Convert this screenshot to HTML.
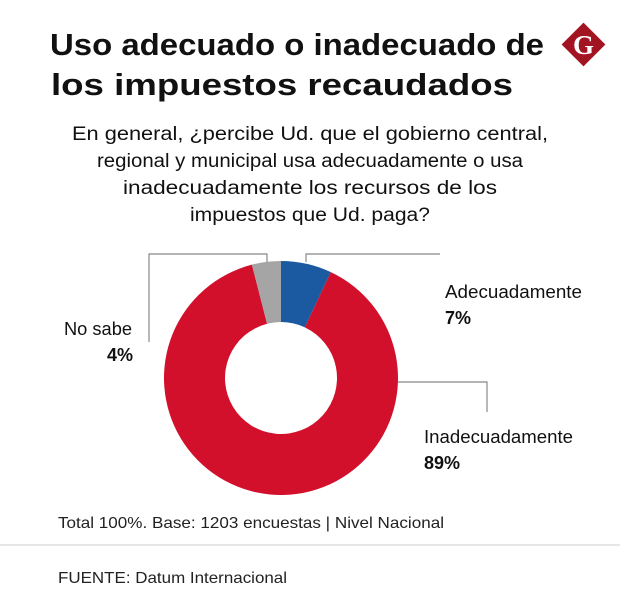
<!DOCTYPE html>
<html><head><meta charset="utf-8"><style>
body{margin:0;background:#fff}
svg{display:block;font-family:"Liberation Sans",sans-serif}
</style></head><body>
<svg width="620" height="615" viewBox="0 0 620 615">
<text x="297" y="55" text-anchor="middle" font-size="31" font-weight="bold" fill="#111" textLength="494" lengthAdjust="spacingAndGlyphs">Uso adecuado o inadecuado de</text>
<text x="282" y="95" text-anchor="middle" font-size="31" font-weight="bold" fill="#111" textLength="462" lengthAdjust="spacingAndGlyphs">los impuestos recaudados</text>
<g>
<rect x="568" y="29" width="31" height="31" fill="#a31423" transform="rotate(45 583.5 44.5)"/>
<text x="583.5" y="54" text-anchor="middle" font-family="Liberation Serif,serif" font-weight="bold" font-size="27" fill="#fff">G</text>
</g>
<g font-size="19" fill="#111" text-anchor="middle">
<text x="310" y="140" textLength="476" lengthAdjust="spacingAndGlyphs">En general, ¿percibe Ud. que el gobierno central,</text>
<text x="310" y="167" textLength="426" lengthAdjust="spacingAndGlyphs">regional y municipal usa adecuadamente o usa</text>
<text x="310" y="194" textLength="374" lengthAdjust="spacingAndGlyphs">inadecuadamente los recursos de los</text>
<text x="310" y="221" textLength="240" lengthAdjust="spacingAndGlyphs">impuestos que Ud. paga?</text>
</g>
<g id="donut"></g>
<g stroke="#888" stroke-width="1.2" fill="none">
<polyline points="306,262 306,254 440,254"/>
<polyline points="267,262 267,254 149,254 149,342"/>
<polyline points="398,382 487,382 487,412"/>
</g>
<g font-size="18" fill="#111">
<text x="445" y="298" textLength="137" lengthAdjust="spacingAndGlyphs">Adecuadamente</text>
<text x="445" y="324" font-weight="bold">7%</text>
<text x="64" y="335" textLength="68" lengthAdjust="spacingAndGlyphs">No sabe</text>
<text x="133" y="361" text-anchor="end" font-weight="bold">4%</text>
<text x="424" y="443" textLength="149" lengthAdjust="spacingAndGlyphs">Inadecuadamente</text>
<text x="424" y="469" font-weight="bold">89%</text>
</g>
<text x="58" y="528" font-size="16" fill="#222" textLength="386" lengthAdjust="spacingAndGlyphs">Total 100%. Base: 1203 encuestas | Nivel Nacional</text>
<line x1="0" y1="545" x2="620" y2="545" stroke="#ccc" stroke-width="1"/>
<text x="58" y="583" font-size="16" fill="#222" textLength="229" lengthAdjust="spacingAndGlyphs">FUENTE: Datum Internacional</text>
</svg>
<script>
const categories=["Adecuadamente","Inadecuadamente","No sabe"];
const values=[7,89,4];
const colors=["#1b5aa0","#d2102c","#a5a5a5"];
const cx=281,cy=378,R=117,r=56;
const g=document.getElementById('donut');
const total=values.reduce((a,b)=>a+b,0);
let a0=0;
function pt(rad,a){return [cx+rad*Math.sin(a),cy-rad*Math.cos(a)];}
values.forEach((v,i)=>{
  const a1=a0+v/total*2*Math.PI;
  const large=(a1-a0)>Math.PI?1:0;
  const p1=pt(R,a0),p2=pt(R,a1),p3=pt(r,a1),p4=pt(r,a0);
  const p=document.createElementNS('http://www.w3.org/2000/svg','path');
  p.setAttribute('d',`M${p1} A${R},${R} 0 ${large} 1 ${p2} L${p3} A${r},${r} 0 ${large} 0 ${p4} Z`);
  p.setAttribute('fill',colors[i]);
  
  
  g.appendChild(p);
  a0=a1;
});
</script>
</body></html>
